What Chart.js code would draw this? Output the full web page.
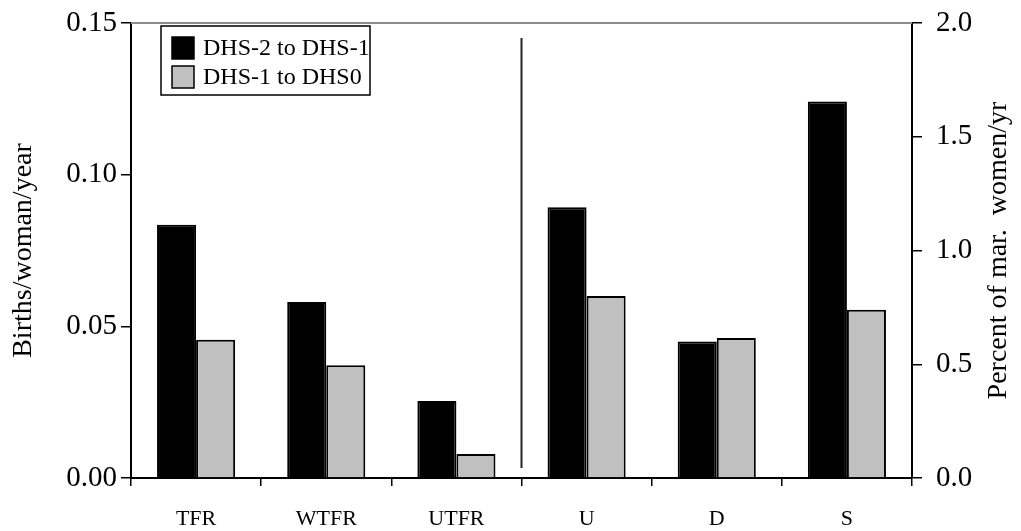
<!doctype html>
<html>
<head>
<title>Births and method use change</title>
<script src="https://cdn.jsdelivr.net/npm/chart.js@4.4.0/dist/chart.umd.min.js"></script>
<style>body{margin:0;background:#fff}</style>
</head>
<body>
<div style="width:1021px;height:531px"><canvas id="canvas"></canvas></div>
<script>
var categories = ["TFR", "WTFR", "UTFR", "U", "D", "S"];
var seriesNames = ["DHS-2 to DHS-1", "DHS-1 to DHS0"];
// births/woman/year, left axis
var leftEarly = [0.0835, 0.058, 0.0254, null, null, null];
var leftLate = [0.0456, 0.0372, 0.0079, null, null, null];
// percent of married women per year, right axis
var rightEarly = [null, null, null, 1.19, 0.60, 1.655];
var rightLate = [null, null, null, 0.80, 0.615, 0.74];
var leftTicks = [0, 0.05, 0.10, 0.15];
var rightTicks = [0, 0.5, 1.0, 1.5, 2.0];
var rightTitle = 'Percent of mar.  women/yr';

var FONT = "'Liberation Serif', 'Times New Roman', Times, serif";

// vertical divider, grey top frame, right axis title (reads upward)
var extrasPlugin = {
	id: 'extras',
	afterDatasetsDraw: function(chart) {
		var ctx = chart.ctx, x = chart.scales.x, area = chart.chartArea;
		var xPos = (x.getPixelForValue(2) + x.getPixelForValue(3)) / 2;
		ctx.save();
		ctx.strokeStyle = '#222';
		ctx.lineWidth = 2;
		ctx.beginPath();
		ctx.moveTo(xPos, area.top + 15);
		ctx.lineTo(xPos, area.bottom - 10);
		ctx.stroke();
		ctx.strokeStyle = '#8c8c8c';
		ctx.beginPath();
		ctx.moveTo(area.left, area.top);
		ctx.lineTo(area.right, area.top);
		ctx.stroke();

		ctx.translate(chart.width - 22, (area.top + area.bottom) / 2);
		ctx.rotate(-Math.PI / 2);
		ctx.font = '28px ' + FONT;
		ctx.fillStyle = '#000';
		ctx.textAlign = 'center';
		ctx.textBaseline = 'middle';
		ctx.fillText(rightTitle, 0, 0);
		ctx.restore();
	}
};

// boxed legend inside the plot
var boxLegend = {
	id: 'boxLegend',
	afterDraw: function(chart) {
		var ctx = chart.ctx, area = chart.chartArea;
		var left = area.left + 30, top = area.top + 3;
		ctx.save();
		ctx.fillStyle = '#fff';
		ctx.fillRect(left, top, 209, 69);
		ctx.strokeStyle = '#000';
		ctx.lineWidth = 1.5;
		ctx.strokeRect(left, top, 209, 69);
		ctx.font = '24px ' + FONT;
		ctx.textBaseline = 'middle';
		for (var i = 0; i < 2; i++) {
			var ds = chart.data.datasets[i];
			var cy = top + 22 + i * 29;
			ctx.fillStyle = ds.backgroundColor;
			ctx.fillRect(left + 11, cy - 11, 22, 22);
			ctx.strokeRect(left + 11, cy - 11, 22, 22);
			ctx.fillStyle = '#000';
			ctx.fillText(ds.label, left + 42, cy + 1);
		}
		ctx.restore();
	}
};

function barSet(label, data, axis, color) {
	return {
		label: label,
		data: data,
		yAxisID: axis,
		backgroundColor: color,
		borderColor: '#000',
		borderWidth: 2,
		skipNull: true,
		categoryPercentage: 0.6,
		barPercentage: 1.0
	};
}

function fitY(width) {
	return function(s) {
		s.width = width;
		s.paddingTop = 0;
		s.paddingBottom = 0;
	};
}

function draw() {
	var ctx = document.getElementById("canvas").getContext("2d");
	window.myBar = new Chart(ctx, {
		type: 'bar',
		data: {
			labels: categories,
			datasets: [
				barSet(seriesNames[0], leftEarly, 'y', '#000000'),
				barSet(seriesNames[1], leftLate, 'y', '#c0c0c0'),
				barSet(seriesNames[0], rightEarly, 'y2', '#000000'),
				barSet(seriesNames[1], rightLate, 'y2', '#c0c0c0')
			]
		},
		options: {
			responsive: true,
			maintainAspectRatio: false,
			animation: false,
			layout: { padding: { top: 23, left: 0, right: 0, bottom: 0 } },
			plugins: { legend: { display: false }, tooltip: { enabled: false } },
			scales: {
				x: {
					grid: { offset: true, drawOnChartArea: false, tickLength: 8, color: '#000', lineWidth: 1.5 },
					border: { color: '#000', width: 2 },
					ticks: { color: '#000', font: { family: FONT, size: 22 }, padding: 20, maxRotation: 0 },
					afterFit: function(s) { s.height = 53; s.paddingLeft = 0; s.paddingRight = 0; }
				},
				y: {
					position: 'left',
					min: 0, max: 0.15,
					afterBuildTicks: function(s) { s.ticks = leftTicks.map(function(v) { return { value: v }; }); },
					ticks: { color: '#000', font: { family: FONT, size: 29 }, padding: 4,
						callback: function(v) { return v.toFixed(2); } },
					grid: { drawOnChartArea: false, tickLength: 10, color: '#000', lineWidth: 1.5 },
					border: { color: '#000', width: 2 },
					title: { display: true, text: 'Births/woman/year', color: '#000',
						font: { family: FONT, size: 28 }, padding: { top: 7, bottom: 0 } },
					afterFit: fitY(131)
				},
				y2: {
					position: 'right',
					min: 0, max: 2,
					afterBuildTicks: function(s) { s.ticks = rightTicks.map(function(v) { return { value: v }; }); },
					ticks: { color: '#000', font: { family: FONT, size: 29 }, padding: 14,
						callback: function(v) { return v.toFixed(1); } },
					grid: { drawOnChartArea: false, tickLength: 10, color: '#000', lineWidth: 1.5 },
					border: { color: '#000', width: 2 },
					afterFit: fitY(109)
				}
			}
		},
		plugins: [extrasPlugin, boxLegend]
	});
}

window.onload = function() {
	if (document.fonts && document.fonts.load) {
		document.fonts.load("24px 'Liberation Serif'").then(draw, draw);
	} else {
		draw();
	}
};
</script>
</body>
</html>
